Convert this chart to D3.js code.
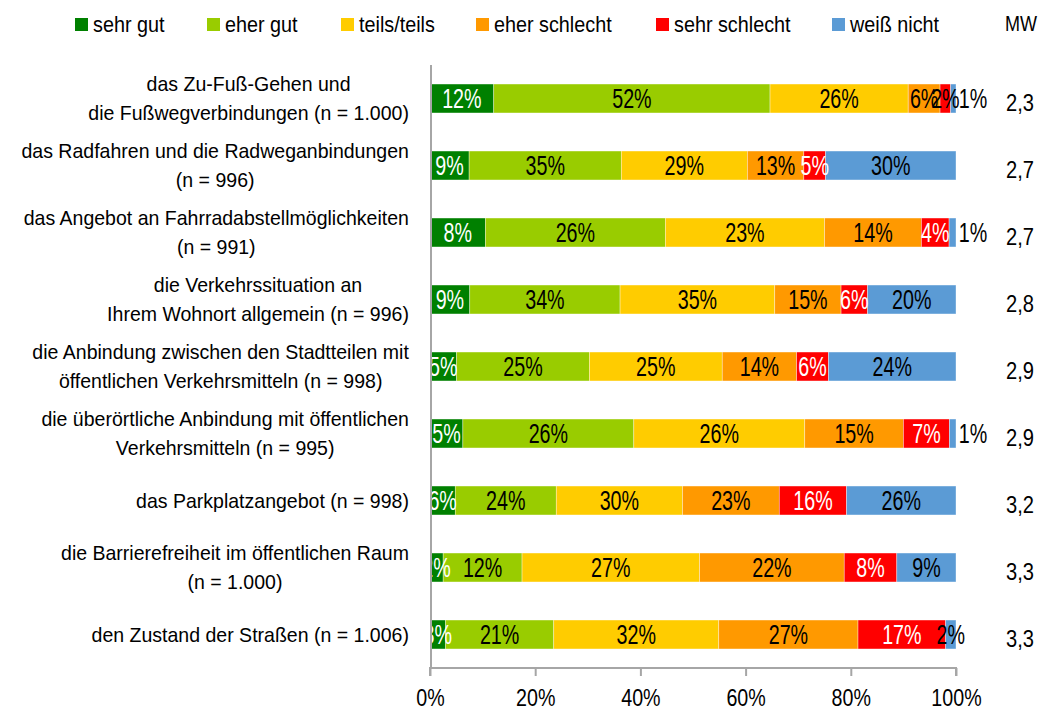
<!DOCTYPE html>
<html>
<head>
<meta charset="utf-8">
<script src="https://cdn.jsdelivr.net/npm/d3@7"></script>
<style>
  body { margin: 0; background: #fff; }
  text { font-family: "Liberation Sans", Arial, sans-serif; fill: #000; }
</style>
</head>
<body>
<div class="chart"></div>
<script>
// categories (each label split in its lines)
var categories = [
  ["das Zu-Fuß-Gehen und", "die Fußwegverbindungen (n = 1.000)"],
  ["das Radfahren und die Radweganbindungen", "(n = 996)"],
  ["das Angebot an Fahrradabstellmöglichkeiten", "(n = 991)"],
  ["die Verkehrssituation an", "Ihrem Wohnort allgemein (n = 996)"],
  ["die Anbindung zwischen den Stadtteilen mit", "öffentlichen Verkehrsmitteln (n = 998)"],
  ["die überörtliche Anbindung mit öffentlichen", "Verkehrsmitteln (n = 995)"],
  ["das Parkplatzangebot (n = 998)"],
  ["die Barrierefreiheit im öffentlichen Raum", "(n = 1.000)"],
  ["den Zustand der Straßen (n = 1.006)"]
];

var seriesNames = ["sehr gut", "eher gut", "teils/teils", "eher schlecht", "sehr schlecht", "weiß nicht"];

// percentages per series, same order as categories
var sehrGut      = [12, 9, 8, 9, 5, 5, 6, 2, 3];
var eherGut      = [52, 35, 26, 34, 25, 26, 24, 12, 21];
var teilsTeils   = [26, 29, 23, 35, 25, 26, 30, 27, 32];
var eherSchlecht = [6, 13, 14, 15, 14, 15, 23, 22, 27];
var sehrSchlecht = [2, 5, 4, 6, 6, 7, 16, 8, 17];
var weissNicht   = [1, 30, 1, 20, 24, 1, 26, 9, 2];

// Mittelwerte
var mw = [2.3, 2.7, 2.7, 2.8, 2.9, 2.9, 3.2, 3.3, 3.3];

var xTicks = [0, 0.2, 0.4, 0.6, 0.8, 1];

var colors = ["#008000", "#99cc00", "#ffcc00", "#ff9900", "#ff0000", "#5b9bd5"];
var labelColors = ["#fff", "#000", "#000", "#000", "#fff", "#000"];

var svgWidth = 1041;
var svgHeight = 712;

var margin = { top: 65, right: 85, bottom: 44, left: 430 };
var width = svgWidth - margin.left - margin.right;
var height = svgHeight - margin.top - margin.bottom;

var svg = d3.select(".chart")
  .append("svg")
  .attr("width", svgWidth)
  .attr("height", svgHeight);

var chartGroup = svg.append("g")
  .attr("transform", `translate(${margin.left}, ${margin.top})`);

// build table for the stack
var keys = seriesNames;
var seriesData = [sehrGut, eherGut, teilsTeils, eherSchlecht, sehrSchlecht, weissNicht];
var table = categories.map(function (c, i) {
  var row = { idx: i };
  keys.forEach(function (k, j) { row[k] = seriesData[j][i]; });
  return row;
});

var stacked = d3.stack()
  .keys(keys)
  .offset(d3.stackOffsetExpand)(table);

var xScale = d3.scaleLinear().domain([0, 1]).range([0, width]);
var yScale = d3.scaleBand()
  .domain(d3.range(categories.length))
  .range([0, height])
  .paddingInner(0.568)
  .paddingOuter(0.284);

// bars
var layers = chartGroup.selectAll(".layer")
  .data(stacked)
  .enter()
  .append("g")
  .attr("class", "layer")
  .attr("fill", (d, i) => colors[i]);

layers.selectAll("rect")
  .data(d => d)
  .enter()
  .append("rect")
  .attr("x", d => xScale(d[0]))
  .attr("y", d => yScale(d.data.idx))
  .attr("width", d => xScale(d[1]) - xScale(d[0]))
  .attr("height", yScale.bandwidth())
  .attr("stroke", "#fff")
  .attr("stroke-opacity", 0.6)
  .attr("stroke-width", 0.6);

// data labels, drawn after all bars so overflowing text stays visible
var labelGroup = chartGroup.append("g");
stacked.forEach(function (layer, li) {
  labelGroup.append("g").selectAll("text")
    .data(layer)
    .enter()
    .append("text")
    .attr("transform", function (d) {
      var v = d.data[layer.key];
      var cx = (xScale(d[0]) + xScale(d[1])) / 2;
      // tiny "weiß nicht" shares go outside the bar
      if (li === 5 && v <= 1) cx = width + 2 + 15;
      var cy = yScale(d.data.idx) + yScale.bandwidth() / 2 + 9.5;
      return `translate(${cx}, ${cy}) scale(0.73, 1)`;
    })
    .attr("text-anchor", "middle")
    .style("font-size", "27px")
    .style("fill", function (d) {
      // the small red 2% in the first row is black
      if (li === 4 && d.data.idx === 0) return "#000";
      if (li === 5 && d.data[layer.key] <= 1) return "#000";
      return labelColors[li];
    })
    .text(d => d.data[layer.key] + "%");
});

// y axis line
chartGroup.append("line")
  .attr("x1", 1).attr("x2", 1)
  .attr("y1", 0).attr("y2", height)
  .attr("stroke", "#a6a6a6")
  .attr("stroke-width", 2);

// x axis
var bottomAxis = d3.axisBottom(xScale)
  .tickValues(xTicks)
  .tickSize(8)
  .tickFormat(d3.format(".0%"));

var xAxis = chartGroup.append("g")
  .attr("transform", `translate(0, ${height})`)
  .call(bottomAxis);

xAxis.select(".domain").attr("stroke", "#a6a6a6").attr("stroke-width", 2)
  .attr("d", `M0,8V0H${width}V8`);
xAxis.selectAll(".tick line").attr("stroke", "#a6a6a6").attr("stroke-width", 2);
xAxis.selectAll(".tick text")
  .attr("y", 0).attr("dy", 0)
  .attr("transform", "translate(0, 38) scale(0.82, 1)")
  .style("font-size", "24px")
  .style("font-family", "'Liberation Sans', Arial, sans-serif")
  .style("fill", "#000");

// category labels, lines centred on each other, right edge at 409
var catGroup = svg.append("g");
categories.forEach(function (lines, i) {
  var cy = margin.top + yScale(i) + yScale.bandwidth() / 2;
  var sx = 0.93;
  var g = catGroup.append("g");
  var texts = lines.map(function (line, j) {
    var off = (j - (lines.length - 1) / 2) * 29;
    return g.append("text")
      .attr("text-anchor", "middle")
      .style("font-size", "21px")
      .attr("data-y", cy + off + 7)
      .text(line);
  });
  var maxW = d3.max(texts, t => t.node().getComputedTextLength()) * sx;
  var cx = 409 - maxW / 2;
  texts.forEach(function (t) {
    t.attr("transform", `translate(${cx}, ${t.attr("data-y")}) scale(${sx}, 1)`);
  });
});

// MW column
var deLocale = d3.formatLocale({ decimal: ",", thousands: ".", grouping: [3], currency: ["", " €"] });
var fmt = deLocale.format(".1f");

svg.append("text")
  .attr("transform", "translate(1021, 31) scale(0.82, 1)")
  .attr("text-anchor", "middle")
  .style("font-size", "22px")
  .text("MW");

svg.selectAll(".mw")
  .data(mw)
  .enter()
  .append("text")
  .attr("class", "mw")
  .attr("transform", (d, i) => `translate(1020, ${margin.top + yScale(i) + yScale.bandwidth() / 2 + 12}) scale(0.84, 1)`)
  .attr("text-anchor", "middle")
  .style("font-size", "24px")
  .text(d => fmt(d));

// legend
var legendX = [75, 207, 341, 476, 656, 832];
var legend = svg.selectAll(".legend")
  .data(seriesNames)
  .enter()
  .append("g")
  .attr("class", "legend")
  .attr("transform", (d, i) => `translate(${legendX[i]}, 0)`);

legend.append("rect")
  .attr("x", 0)
  .attr("y", 18)
  .attr("width", 13)
  .attr("height", 13)
  .attr("fill", (d, i) => colors[i]);

legend.append("text")
  .attr("transform", "translate(18, 32) scale(0.9, 1)")
  .style("font-size", "22px")
  .text(d => d);
</script>
</body>
</html>
